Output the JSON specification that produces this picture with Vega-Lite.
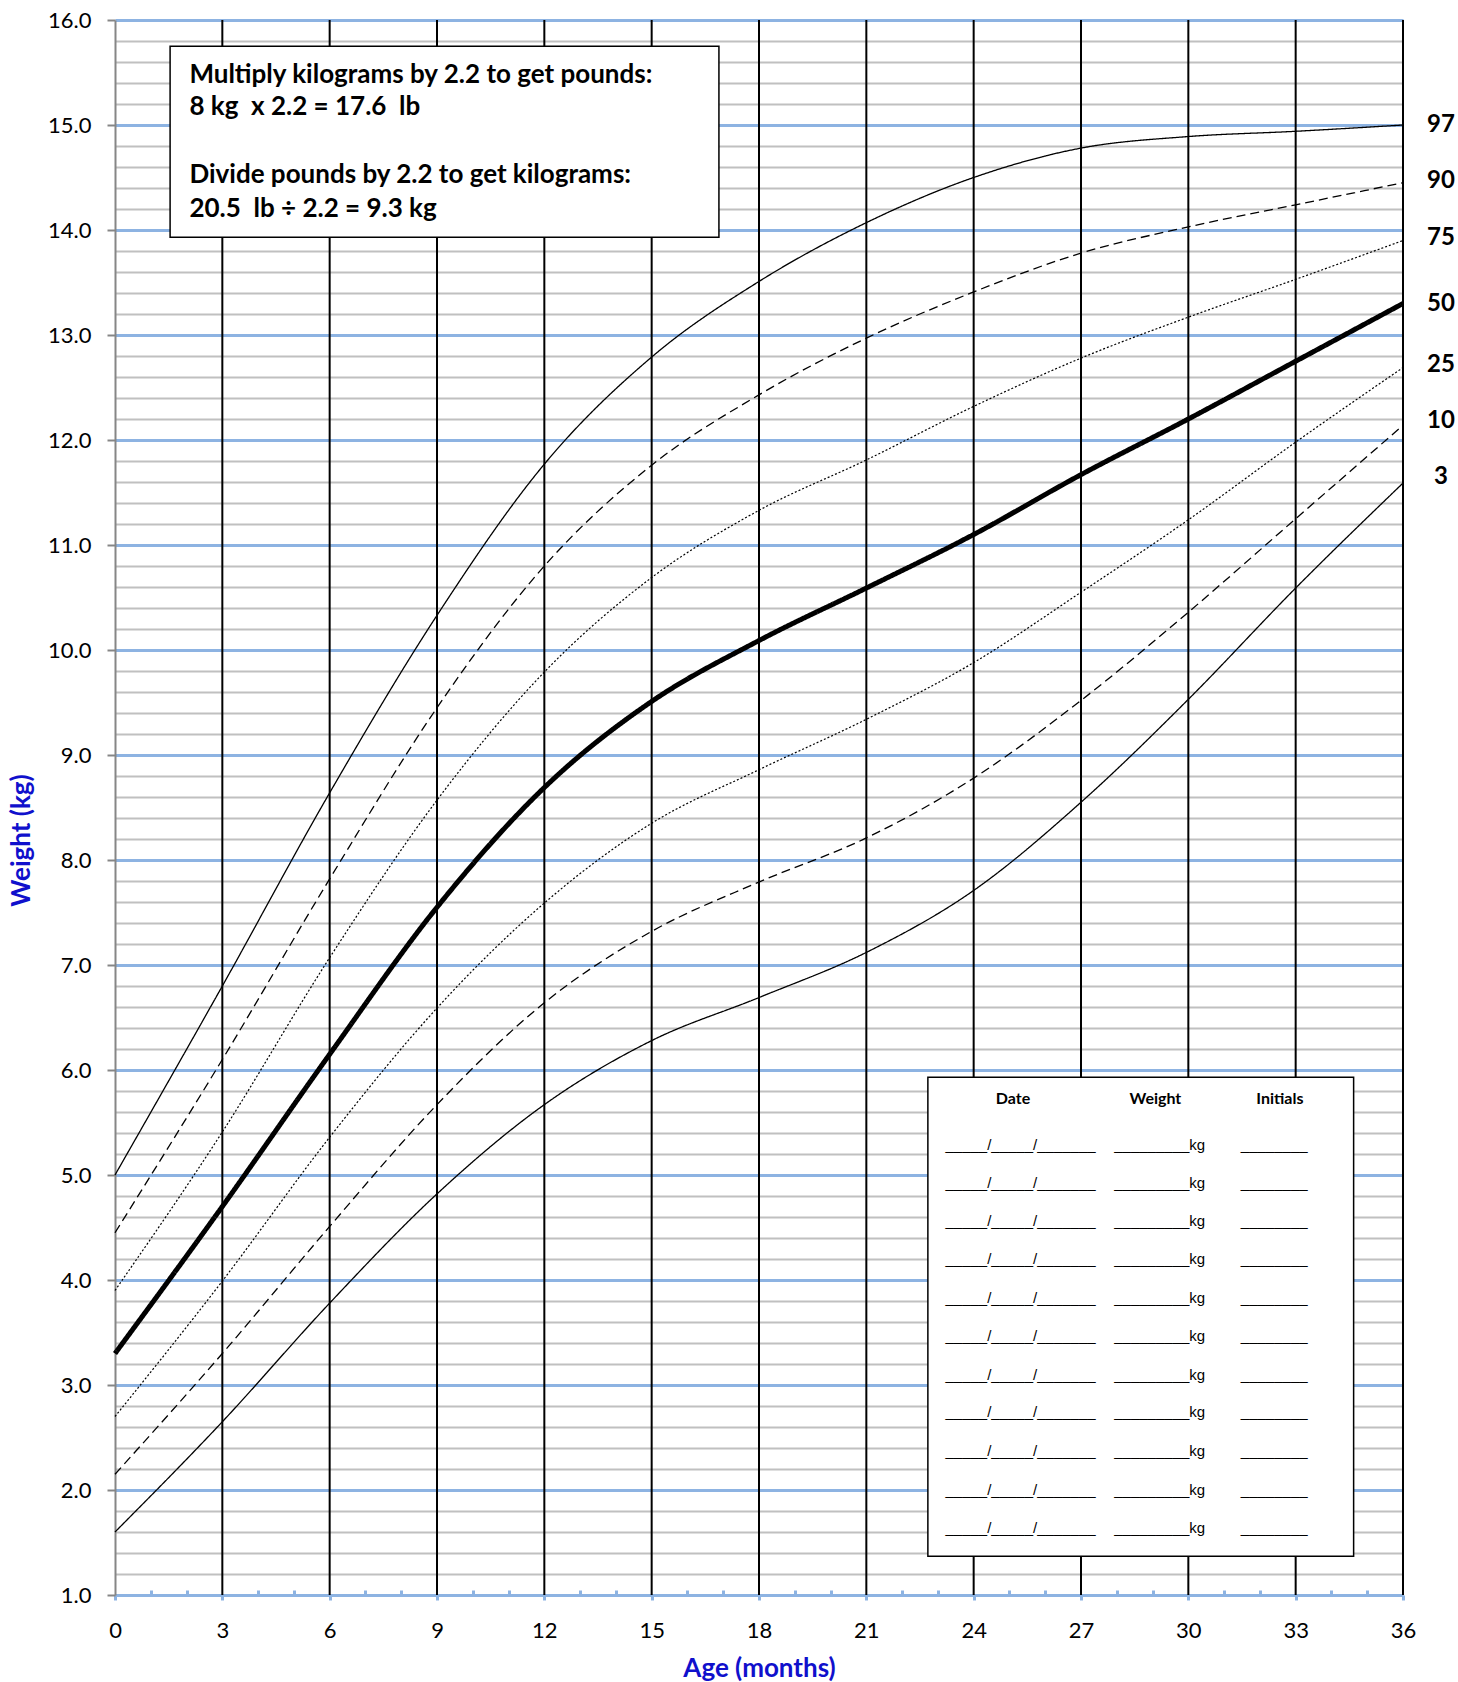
{
  "$schema": "https://vega.github.io/schema/vega-lite/v6.json",
  "width": 1288,
  "height": 1575,
  "autosize": {"type": "none"},
  "padding": {"left": 115, "top": 20, "right": 55, "bottom": 87},
  "config": {"view": {"stroke": null}, "font": "Lato"},
  "datasets": {
    "curves": [
      {"p": "97", "m": 0, "w": 5.0}, {"p": "97", "m": 3, "w": 6.8}, {"p": "97", "m": 6, "w": 8.64}, {"p": "97", "m": 9, "w": 10.33}, {"p": "97", "m": 12, "w": 11.77}, {"p": "97", "m": 15, "w": 12.79}, {"p": "97", "m": 18, "w": 13.51}, {"p": "97", "m": 21, "w": 14.07}, {"p": "97", "m": 24, "w": 14.5}, {"p": "97", "m": 27, "w": 14.78}, {"p": "97", "m": 30, "w": 14.89}, {"p": "97", "m": 33, "w": 14.94}, {"p": "97", "m": 36, "w": 15.0},
      {"p": "90", "m": 0, "w": 4.45}, {"p": "90", "m": 3, "w": 6.1}, {"p": "90", "m": 6, "w": 7.82}, {"p": "90", "m": 9, "w": 9.45}, {"p": "90", "m": 12, "w": 10.8}, {"p": "90", "m": 15, "w": 11.76}, {"p": "90", "m": 18, "w": 12.43}, {"p": "90", "m": 21, "w": 12.97}, {"p": "90", "m": 24, "w": 13.41}, {"p": "90", "m": 27, "w": 13.78}, {"p": "90", "m": 30, "w": 14.03}, {"p": "90", "m": 33, "w": 14.24}, {"p": "90", "m": 36, "w": 14.45},
      {"p": "75", "m": 0, "w": 3.9}, {"p": "75", "m": 3, "w": 5.41}, {"p": "75", "m": 6, "w": 7.07}, {"p": "75", "m": 9, "w": 8.57}, {"p": "75", "m": 12, "w": 9.79}, {"p": "75", "m": 15, "w": 10.69}, {"p": "75", "m": 18, "w": 11.33}, {"p": "75", "m": 21, "w": 11.81}, {"p": "75", "m": 24, "w": 12.32}, {"p": "75", "m": 27, "w": 12.78}, {"p": "75", "m": 30, "w": 13.17}, {"p": "75", "m": 33, "w": 13.53}, {"p": "75", "m": 36, "w": 13.9},
      {"p": "50", "m": 0, "w": 3.3}, {"p": "50", "m": 3, "w": 4.7}, {"p": "50", "m": 6, "w": 6.15}, {"p": "50", "m": 9, "w": 7.55}, {"p": "50", "m": 12, "w": 8.69}, {"p": "50", "m": 15, "w": 9.51}, {"p": "50", "m": 18, "w": 10.09}, {"p": "50", "m": 21, "w": 10.59}, {"p": "50", "m": 24, "w": 11.1}, {"p": "50", "m": 27, "w": 11.67}, {"p": "50", "m": 30, "w": 12.2}, {"p": "50", "m": 33, "w": 12.75}, {"p": "50", "m": 36, "w": 13.3},
      {"p": "25", "m": 0, "w": 2.7}, {"p": "25", "m": 3, "w": 3.99}, {"p": "25", "m": 6, "w": 5.36}, {"p": "25", "m": 9, "w": 6.59}, {"p": "25", "m": 12, "w": 7.59}, {"p": "25", "m": 15, "w": 8.35}, {"p": "25", "m": 18, "w": 8.86}, {"p": "25", "m": 21, "w": 9.34}, {"p": "25", "m": 24, "w": 9.88}, {"p": "25", "m": 27, "w": 10.55}, {"p": "25", "m": 30, "w": 11.24}, {"p": "25", "m": 33, "w": 11.98}, {"p": "25", "m": 36, "w": 12.69},
      {"p": "10", "m": 0, "w": 2.15}, {"p": "10", "m": 3, "w": 3.3}, {"p": "10", "m": 6, "w": 4.51}, {"p": "10", "m": 9, "w": 5.67}, {"p": "10", "m": 12, "w": 6.64}, {"p": "10", "m": 15, "w": 7.32}, {"p": "10", "m": 18, "w": 7.79}, {"p": "10", "m": 21, "w": 8.21}, {"p": "10", "m": 24, "w": 8.78}, {"p": "10", "m": 27, "w": 9.52}, {"p": "10", "m": 30, "w": 10.36}, {"p": "10", "m": 33, "w": 11.25}, {"p": "10", "m": 36, "w": 12.14},
      {"p": "3", "m": 0, "w": 1.6}, {"p": "3", "m": 3, "w": 2.65}, {"p": "3", "m": 6, "w": 3.78}, {"p": "3", "m": 9, "w": 4.82}, {"p": "3", "m": 12, "w": 5.67}, {"p": "3", "m": 15, "w": 6.28}, {"p": "3", "m": 18, "w": 6.69}, {"p": "3", "m": 21, "w": 7.12}, {"p": "3", "m": 24, "w": 7.71}, {"p": "3", "m": 27, "w": 8.55}, {"p": "3", "m": 30, "w": 9.53}, {"p": "3", "m": 33, "w": 10.59}, {"p": "3", "m": 36, "w": 11.59}
    ],
    "vlines": [
      {"m": 3}, {"m": 6}, {"m": 9}, {"m": 12}, {"m": 15}, {"m": 18}, {"m": 21}, {"m": 24}, {"m": 27}, {"m": 30}, {"m": 33}, {"m": 36}
    ],
    "labels": [
      {"p": "97", "w": 15.0}, {"p": "90", "w": 14.47}, {"p": "75", "w": 13.92}, {"p": "50", "w": 13.3}, {"p": "25", "w": 12.71}, {"p": "10", "w": 12.18}, {"p": "3", "w": 11.65}
    ],
    "boxes": [
      {"m1": 1.54, "m2": 16.88, "w1": 15.75, "w2": 13.93},
      {"m1": 22.72, "m2": 34.62, "w1": 5.93, "w2": 1.37}
    ],
    "note": [
      {"t": "Multiply kilograms by 2.2 to get pounds:", "m": 2.08, "w": 15.48},
      {"t": "8 kg\u00a0 x 2.2 = 17.6\u00a0 lb", "m": 2.08, "w": 15.17},
      {"t": "Divide pounds by 2.2 to get kilograms:", "m": 2.08, "w": 14.52},
      {"t": "20.5\u00a0 lb ÷ 2.2 = 9.3 kg", "m": 2.08, "w": 14.2}
    ],
    "heads": [
      {"t": "Date", "m": 25.1, "w": 5.72}, {"t": "Weight", "m": 29.08, "w": 5.72}, {"t": "Initials", "m": 32.56, "w": 5.72}
    ],
    "rows": [
      {"m": 25.31, "w": 5.29, "t": "_____/_____/_______"}, {"m": 29.2, "w": 5.29, "t": "_________kg"}, {"m": 32.4, "w": 5.29, "t": "________"},
      {"m": 25.31, "w": 4.92, "t": "_____/_____/_______"}, {"m": 29.2, "w": 4.92, "t": "_________kg"}, {"m": 32.4, "w": 4.92, "t": "________"},
      {"m": 25.31, "w": 4.56, "t": "_____/_____/_______"}, {"m": 29.2, "w": 4.56, "t": "_________kg"}, {"m": 32.4, "w": 4.56, "t": "________"},
      {"m": 25.31, "w": 4.2, "t": "_____/_____/_______"}, {"m": 29.2, "w": 4.2, "t": "_________kg"}, {"m": 32.4, "w": 4.2, "t": "________"},
      {"m": 25.31, "w": 3.83, "t": "_____/_____/_______"}, {"m": 29.2, "w": 3.83, "t": "_________kg"}, {"m": 32.4, "w": 3.83, "t": "________"},
      {"m": 25.31, "w": 3.47, "t": "_____/_____/_______"}, {"m": 29.2, "w": 3.47, "t": "_________kg"}, {"m": 32.4, "w": 3.47, "t": "________"},
      {"m": 25.31, "w": 3.1, "t": "_____/_____/_______"}, {"m": 29.2, "w": 3.1, "t": "_________kg"}, {"m": 32.4, "w": 3.1, "t": "________"},
      {"m": 25.31, "w": 2.74, "t": "_____/_____/_______"}, {"m": 29.2, "w": 2.74, "t": "_________kg"}, {"m": 32.4, "w": 2.74, "t": "________"},
      {"m": 25.31, "w": 2.37, "t": "_____/_____/_______"}, {"m": 29.2, "w": 2.37, "t": "_________kg"}, {"m": 32.4, "w": 2.37, "t": "________"},
      {"m": 25.31, "w": 2.0, "t": "_____/_____/_______"}, {"m": 29.2, "w": 2.0, "t": "_________kg"}, {"m": 32.4, "w": 2.0, "t": "________"},
      {"m": 25.31, "w": 1.64, "t": "_____/_____/_______"}, {"m": 29.2, "w": 1.64, "t": "_________kg"}, {"m": 32.4, "w": 1.64, "t": "________"}
    ]
  },
  "layer": [
    {
      "data": {"name": "vlines"},
      "mark": {"type": "rule", "color": "black", "strokeWidth": 2},
      "encoding": {
        "x": {
          "field": "m", "type": "quantitative",
          "scale": {"domain": [0, 36], "nice": false, "zero": false},
          "axis": {
            "values": [0,1,2,3,4,5,6,7,8,9,10,11,12,13,14,15,16,17,18,19,20,21,22,23,24,25,26,27,28,29,30,31,32,33,34,35,36],
            "tickCount": 200,
            "title": "Age (months)", "titleFont": "Lato", "titleFontSize": 26, "titleFontWeight": "bold", "titleColor": "#1010cc", "titlePadding": 14,
            "labelExpr": "datum.value % 3 == 0 ? datum.label : ''", "format": "d",
            "labelFont": "Lato", "labelFontSize": 22, "labelColor": "black", "labelPadding": 20, "labelOverlap": false, "labelFlush": false,
            "grid": false,
            "domainColor": "#8db3e2", "domainWidth": 3,
            "ticks": true, "tickColor": "#8db3e2", "tickWidth": 3,
            "tickSize": {"condition": {"test": "datum.value % 3 == 0", "value": 5}, "value": -5}
          }
        }
      }
    },
    {
      "data": {"name": "curves"},
      "mark": {"type": "line", "interpolate": "monotone", "color": "black"},
      "encoding": {
        "x": {"field": "m", "type": "quantitative"},
        "y": {
          "field": "w", "type": "quantitative",
          "scale": {"domain": [1, 16], "nice": false, "zero": false},
          "axis": {
            "values": [1,1.2,1.4,1.6,1.8,2,2.2,2.4,2.6,2.8,3,3.2,3.4,3.6,3.8,4,4.2,4.4,4.6,4.8,5,5.2,5.4,5.6,5.8,6,6.2,6.4,6.6,6.8,7,7.2,7.4,7.6,7.8,8,8.2,8.4,8.6,8.8,9,9.2,9.4,9.6,9.8,10,10.2,10.4,10.6,10.8,11,11.2,11.4,11.6,11.8,12,12.2,12.4,12.6,12.8,13,13.2,13.4,13.6,13.8,14,14.2,14.4,14.6,14.8,15,15.2,15.4,15.6,15.8,16],
            "tickCount": 200,
            "title": "Weight (kg)", "titleFont": "Lato", "titleFontSize": 26, "titleFontWeight": "bold", "titleColor": "#1010cc", "titlePadding": 13,
            "titleY": 820,
            "labelExpr": "datum.value % 1 == 0 ? format(datum.value, '.1f') : ''",
            "labelFont": "Lato", "labelFontSize": 22, "labelColor": "black", "labelPadding": 16, "labelOverlap": false, "labelFlush": false,
            "grid": true,
            "gridColor": {"condition": {"test": "datum.value % 1 == 0", "value": "#8db3e2"}, "value": "#c0c0c0"},
            "gridWidth": {"condition": {"test": "datum.value % 1 == 0", "value": 3}, "value": 2},
            "domainColor": "#868686", "domainWidth": 2,
            "tickColor": "#868686", "tickWidth": 2, "tickSize": 8,
            "tickOpacity": {"condition": {"test": "datum.value % 1 == 0", "value": 1}, "value": 0}
          }
        },
        "detail": {"field": "p", "type": "nominal"},
        "strokeDash": {
          "field": "p", "type": "nominal", "legend": null,
          "scale": {"domain": ["97", "90", "75", "50", "25", "10", "3"], "range": [[1, 0], [9, 5], [2, 2], [1, 0], [2, 2], [9, 5], [1, 0]]}
        },
        "strokeWidth": {
          "field": "p", "type": "ordinal", "legend": null,
          "scale": {"type": "ordinal", "domain": ["97", "90", "75", "50", "25", "10", "3"], "range": [1.3, 1.3, 1.2, 5, 1.2, 1.3, 1.3]}
        }
      }
    },
    {
      "data": {"name": "boxes"},
      "mark": {"type": "rect", "fill": "white", "stroke": "black", "strokeWidth": 1.5},
      "encoding": {
        "x": {"field": "m1", "type": "quantitative"},
        "x2": {"field": "m2"},
        "y": {"field": "w1", "type": "quantitative"},
        "y2": {"field": "w2"}
      }
    },
    {
      "data": {"name": "note"},
      "mark": {"type": "text", "align": "left", "baseline": "middle", "font": "Lato", "fontWeight": "bold", "fontSize": 26, "color": "black"},
      "encoding": {
        "x": {"field": "m", "type": "quantitative"},
        "y": {"field": "w", "type": "quantitative"},
        "text": {"field": "t"}
      }
    },
    {
      "data": {"name": "heads"},
      "mark": {"type": "text", "align": "center", "baseline": "middle", "font": "Lato", "fontWeight": "bold", "fontSize": 16, "color": "black"},
      "encoding": {
        "x": {"field": "m", "type": "quantitative"},
        "y": {"field": "w", "type": "quantitative"},
        "text": {"field": "t"}
      }
    },
    {
      "data": {"name": "rows"},
      "mark": {"type": "text", "align": "center", "baseline": "middle", "font": "Liberation Sans", "fontSize": 15, "color": "black"},
      "encoding": {
        "x": {"field": "m", "type": "quantitative"},
        "y": {"field": "w", "type": "quantitative"},
        "text": {"field": "t"}
      }
    },
    {
      "data": {"name": "labels"},
      "mark": {"type": "text", "align": "center", "baseline": "middle", "font": "Lato", "fontWeight": "bold", "fontSize": 24, "color": "black", "dx": 38},
      "encoding": {
        "x": {"datum": 36, "type": "quantitative"},
        "y": {"field": "w", "type": "quantitative"},
        "text": {"field": "p"}
      }
    }
  ]
}
